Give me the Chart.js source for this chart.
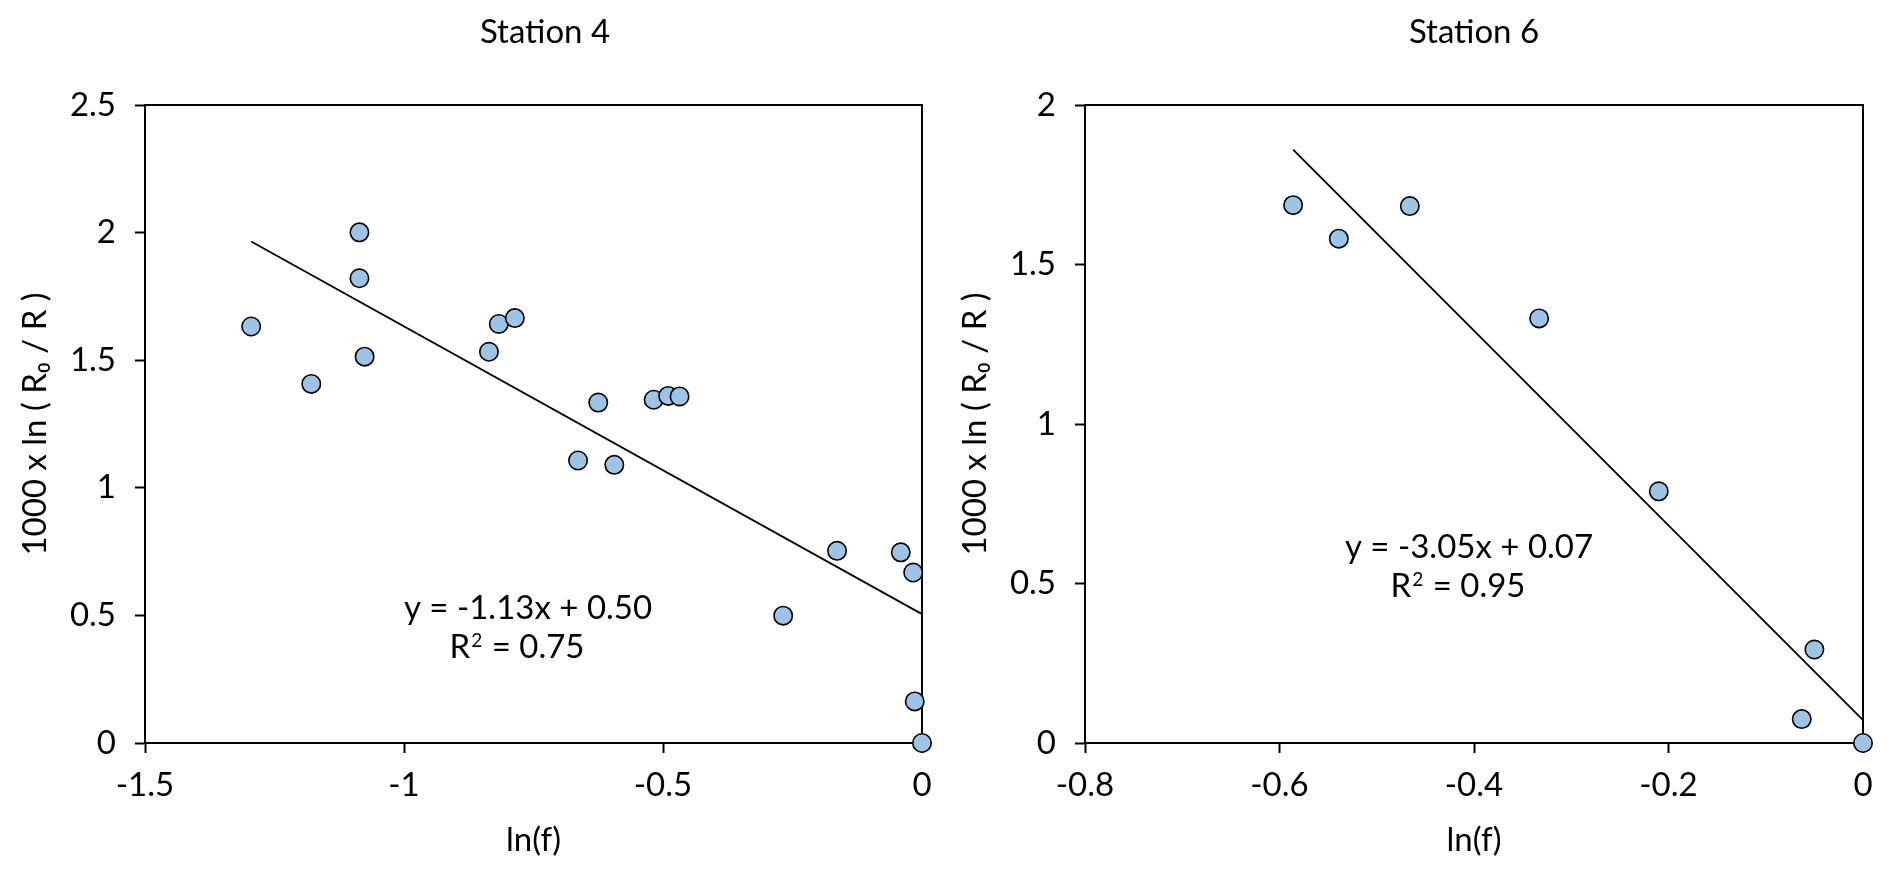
<!DOCTYPE html>
<html>
<head>
<meta charset="utf-8">
<title>Station 4 / Station 6</title>
<script src="https://cdn.jsdelivr.net/npm/chart.js@4.4.1/dist/chart.umd.min.js"></script>
<style>
  html, body { margin: 0; padding: 0; background: #fff; }
  #wrap { position: relative; width: 1892px; height: 880px; }
  .panel { position: absolute; top: 0; width: 946px; height: 880px; }
  #p4 { left: 0; }
  #p6 { left: 946px; }
</style>
</head>
<body>
<div id="wrap">
  <div class="panel" id="p4"><canvas id="c4" width="946" height="880"></canvas></div>
  <div class="panel" id="p6"><canvas id="c6" width="946" height="880"></canvas></div>
</div>
<script>
// --- data ---
const ST4_X = [-1.295, -1.179, -1.086, -1.086, -1.076, -0.836, -0.817, -0.786, -0.664, -0.625,
               -0.594, -0.518, -0.490, -0.468, -0.268, -0.164, -0.041, -0.017, -0.014, 0];
const ST4_Y = [1.632, 1.407, 2.001, 1.821, 1.514, 1.533, 1.642, 1.665, 1.107, 1.334,
               1.090, 1.345, 1.360, 1.358, 0.499, 0.753, 0.747, 0.668, 0.163, 0];
const ST4_TREND_X = [-1.295, 0];
const ST4_TREND_Y = [1.965, 0.505];
const ST4_XTICKS = [-1.5, -1, -0.5, 0];
const ST4_YTICKS = [0, 0.5, 1, 1.5, 2, 2.5];

const ST6_X = [-0.586, -0.539, -0.466, -0.333, -0.210, -0.063, -0.050, 0];
const ST6_Y = [1.686, 1.581, 1.683, 1.331, 0.789, 0.075, 0.293, 0];
const ST6_TREND_X = [-0.586, 0];
const ST6_TREND_Y = [1.860, 0.072];
const ST6_XTICKS = [-0.8, -0.6, -0.4, -0.2, 0];
const ST6_YTICKS = [0, 0.5, 1, 1.5, 2];

const X_TITLE = 'ln(f)';
const Y_TITLE = '1000 x ln ( R\u2080 / R )';

// --- look ---
const INK = '#000';
const FILL = '#9DC3E6';
const FONT = 'Lato, "Open Sans", sans-serif';
const FONT_PX = 33;
const SUP_PX = 19;

const pts = (xs, ys) => xs.map((x, i) => ({ x, y: ys[i] }));
const fmt = (v) => String(Number(v.toFixed(2)));

// one line of text, parts may be superscript; centred on x
function drawRich(ctx, parts, x, y) {
  const fontOf = p => `${p.sup ? SUP_PX : FONT_PX}px ${FONT}`;
  let w = 0;
  parts.forEach(p => { ctx.font = fontOf(p); w += ctx.measureText(p.t).width + (p.sup ? 2 : 0); });
  let cx = x - w / 2;
  ctx.textAlign = 'left';
  parts.forEach(p => {
    ctx.font = fontOf(p);
    if (p.sup) cx += 1;
    ctx.fillText(p.t, cx, p.sup ? y - 11 : y);
    cx += ctx.measureText(p.t).width + (p.sup ? 1 : 0);
  });
}

// frame around the plot area + panel title + trendline equation
const panelText = {
  id: 'panelText',
  beforeDatasetsDraw(c) {
    const { ctx, chartArea: a } = c;
    ctx.save();
    ctx.strokeStyle = INK;
    ctx.lineWidth = 2;
    ctx.strokeRect(a.left, a.top, a.right - a.left, a.bottom - a.top);
    ctx.restore();
  },
  afterDraw(c, _args, o) {
    const { ctx } = c;
    ctx.save();
    ctx.fillStyle = INK;
    ctx.textBaseline = 'alphabetic';
    ctx.font = `${FONT_PX}px ${FONT}`;
    ctx.textAlign = 'center';
    ctx.fillText(o.title, o.titleX, 43);
    (o.lines || []).forEach(l => drawRich(ctx, l.parts, l.x, l.y));
    ctx.restore();
  }
};

function makeChart(id, cfg) {
  const tickFont = { family: FONT, size: FONT_PX };
  return new Chart(document.getElementById(id), {
    type: 'scatter',
    data: {
      datasets: [
        {
          data: pts(cfg.x, cfg.y),
          pointRadius: 9.2,
          pointBackgroundColor: FILL,
          pointBorderColor: INK,
          pointBorderWidth: 1.6,
          clip: false,
          order: 0
        },
        {
          data: pts(cfg.tx, cfg.ty),
          showLine: true,
          borderColor: INK,
          borderWidth: 1.8,
          pointRadius: 0,
          clip: false,
          order: 1
        }
      ]
    },
    options: {
      responsive: false,
      animation: false,
      devicePixelRatio: 1,
      events: [],
      layout: { padding: { top: 105, right: cfg.padRight, bottom: 0, left: 0 } },
      plugins: {
        legend: { display: false },
        tooltip: { enabled: false },
        panelText: { title: cfg.title, titleX: cfg.titleX, lines: cfg.lines }
      },
      scales: {
        x: {
          type: 'linear',
          min: cfg.xticks[0],
          max: cfg.xticks[cfg.xticks.length - 1],
          afterBuildTicks: s => { s.ticks = cfg.xticks.map(v => ({ value: v })); },
          afterFit: s => { s.height = 137; },
          ticks: { color: INK, font: tickFont, padding: 13, maxRotation: 0, callback: fmt },
          grid: { drawOnChartArea: false, drawTicks: true, tickLength: 10, tickWidth: 2, tickColor: INK },
          border: { color: INK, width: 2 },
          title: { display: true, text: X_TITLE, color: INK, font: tickFont, padding: { top: 0, bottom: 20 } }
        },
        y: {
          type: 'linear',
          min: cfg.yticks[0],
          max: cfg.yticks[cfg.yticks.length - 1],
          afterBuildTicks: s => { s.ticks = cfg.yticks.map(v => ({ value: v })); },
          afterFit: s => { s.width = cfg.yWidth; },
          ticks: { color: INK, font: tickFont, padding: 19, callback: fmt },
          grid: { drawOnChartArea: false, drawTicks: true, tickLength: 10, tickWidth: 2, tickColor: INK },
          border: { color: INK, width: 2 },
          title: { display: true, text: Y_TITLE, color: INK, font: tickFont, padding: { top: cfg.yTitlePad, bottom: 0 } }
        }
      }
    },
    plugins: [panelText]
  });
}

function boot() {
  makeChart('c4', {
    x: ST4_X, y: ST4_Y, tx: ST4_TREND_X, ty: ST4_TREND_Y,
    xticks: ST4_XTICKS, yticks: ST4_YTICKS,
    padRight: 24, yWidth: 145, yTitlePad: 16,
    title: 'Station 4', titleX: 545,
    lines: [
      { parts: [{ t: 'y = -1.13x + 0.50' }], x: 528, y: 619 },
      { parts: [{ t: 'R' }, { t: '2', sup: true }, { t: ' = 0.75' }], x: 517, y: 658 }
    ]
  });
  makeChart('c6', {
    x: ST6_X, y: ST6_Y, tx: ST6_TREND_X, ty: ST6_TREND_Y,
    xticks: ST6_XTICKS, yticks: ST6_YTICKS,
    padRight: 29, yWidth: 139, yTitlePad: 10,
    title: 'Station 6', titleX: 528,
    lines: [
      { parts: [{ t: 'y = -3.05x + 0.07' }], x: 523, y: 558 },
      { parts: [{ t: 'R' }, { t: '2', sup: true }, { t: ' = 0.95' }], x: 512, y: 597 }
    ]
  });
}

// local fonts only; make sure Lato is ready before drawing
(document.fonts ? document.fonts.load(`${FONT_PX}px Lato`) : Promise.resolve())
  .catch(() => {})
  .then(boot);
</script>
</body>
</html>
